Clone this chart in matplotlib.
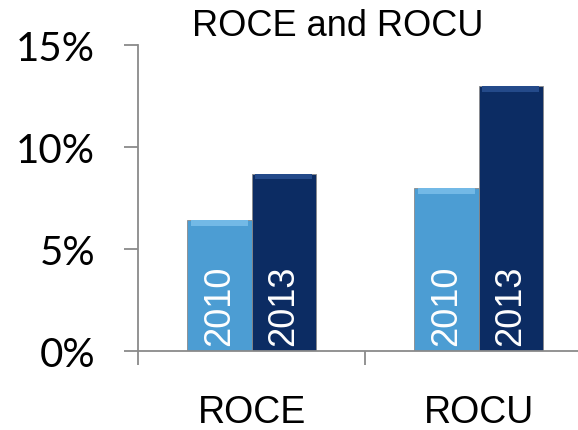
import numpy as np
import matplotlib.pyplot as plt
from matplotlib.ticker import FuncFormatter

# data
categories = ['ROCE', 'ROCU']
years = ['2010', '2013']
values_2010 = [6.4, 8.0]
values_2013 = [8.7, 13.0]

colors = ['#4c9dd3', '#0c2c63']
bevel_colors = ['#73b9e6', '#244a8a']

fig = plt.figure(figsize=(5.78, 4.31), dpi=100)
ax = fig.add_axes([138 / 578, 79 / 431, 454 / 578, 306 / 431])

x = np.arange(len(categories))
w = 0.282
bevel = 0.28

for k, (vals, yr) in enumerate(zip([values_2010, values_2013], years)):
    xs = x + (k - 0.5) * w
    ax.bar(xs, vals, width=w, color=colors[k], edgecolor='#8a8a8a', linewidth=0.6, zorder=2)
    # lighter strip on top, a rough version of the bevel look
    ax.bar(xs, [bevel] * len(vals), bottom=np.array(vals) - bevel, width=w * 0.9,
           color=bevel_colors[k], linewidth=0, zorder=3)
    for xi in xs:
        ax.text(xi, 0.3, yr, rotation=90, ha='center', va='bottom', color='white',
                fontsize=26, family='Liberation Sans', zorder=4)

ax.set_xlim(-0.5, 1.5)
ax.set_ylim(0, 15)
ax.set_yticks([0, 5, 10, 15])
ax.yaxis.set_major_formatter(FuncFormatter(lambda v, p: f'{v:.0f}%'))

ax.set_xticks(x)
ax.set_xticklabels(categories, fontsize=27, family='Liberation Sans')
ax.set_xticks([-0.5, 0.5, 1.5], minor=True)
ax.tick_params(axis='x', which='major', length=0, pad=31)
ax.tick_params(axis='x', which='minor', length=10, width=1.3, color='#8a8a8a', direction='out')
ax.tick_params(axis='y', length=10, width=1.3, color='#8a8a8a', direction='out', pad=21)
for lab in ax.get_yticklabels():
    lab.set_fontsize(29)
    lab.set_family('Lato')

for s in ['top', 'right']:
    ax.spines[s].set_visible(False)
for s in ['left', 'bottom']:
    ax.spines[s].set_color('#8a8a8a')
    ax.spines[s].set_linewidth(1.3)

fig.text(338 / 578, 1 - 26 / 431, 'ROCE and ROCU', ha='center', va='center',
         fontsize=26, family='Liberation Sans')

fig.savefig('out.png', dpi=100)
